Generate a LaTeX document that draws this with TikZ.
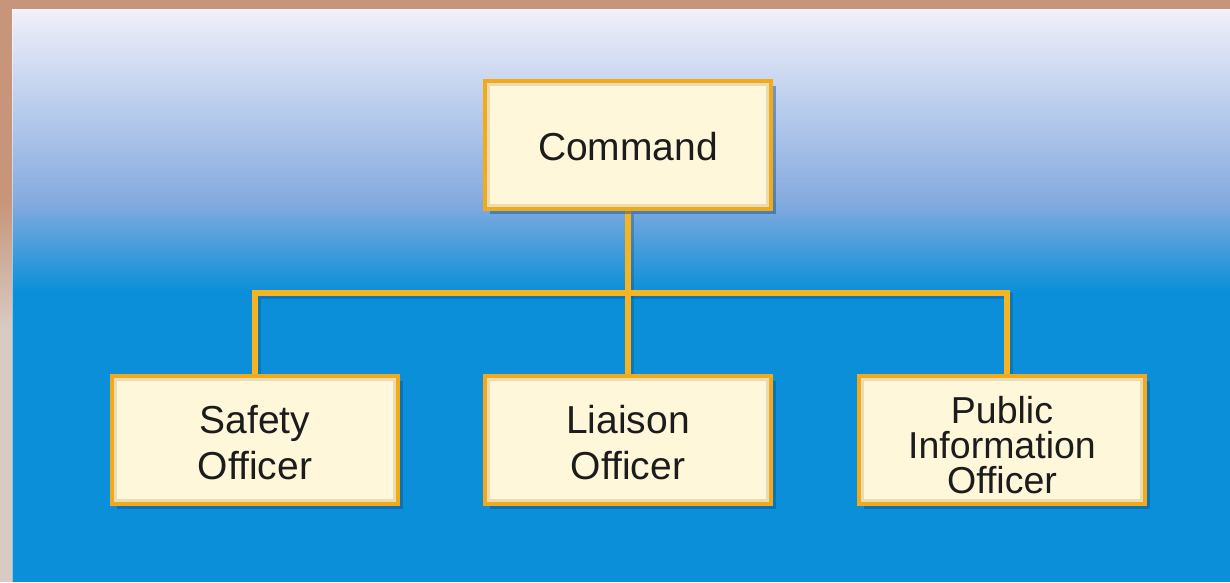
\documentclass[tikz,border=0pt]{standalone}
\usepackage{fontspec}
\setmainfont{Liberation Sans}
\usetikzlibrary{shadows}
\definecolor{frame}{HTML}{C7957A}
\definecolor{framelow}{HTML}{D8CBC4}
\definecolor{bgtop}{HTML}{F0F0FA}
\definecolor{bgmid}{HTML}{86ABDF}
\definecolor{bgblue}{HTML}{0A8FD8}
\definecolor{boxfill}{HTML}{FFF7DA}
\definecolor{boxline}{HTML}{F2A91A}
\definecolor{bevel}{HTML}{EADCB2}
\definecolor{conncol}{HTML}{F6B422}
\definecolor{shadowcol}{HTML}{0B4F8E}
\definecolor{txt}{HTML}{1C1C1C}
\newcommand{\boxtext}[2][3pt]{\raisebox{-#1}[\height][\depth]{\parbox{280pt}{\centering #2}}}
\pgfdeclarelayer{back}
\pgfdeclarelayer{conn}
\pgfsetlayers{back,conn,main}
\tikzset{
  orgbox/.style={draw=boxline, fill=boxfill, line width=4pt,
    minimum width=286pt, minimum height=128pt, inner sep=0pt,
    text=txt,
    font=\fontsize{39}{46}\selectfont,
    drop shadow={fill=shadowcol, opacity=0.45, shadow xshift=5pt, shadow yshift=-5pt},
    path picture={\draw[bevel, line width=2.5pt]
      ([shift={(3.5pt,-3.5pt)}]path picture bounding box.north west) rectangle
      ([shift={(-3.5pt,3.5pt)}]path picture bounding box.south east);}},
  connector/.style={draw=conncol, line width=6pt},
  connshadow/.style={draw=shadowcol, line width=6pt, opacity=0.35,
    transform canvas={shift={(3pt,-3pt)}}}
}
\begin{document}
\begin{tikzpicture}[x=1pt, y=-1pt]
\useasboundingbox (0,0) rectangle (1230,582);
\begin{pgfonlayer}{back}
  \fill[frame] (0,0) rectangle (1230,582);
  \shade[top color=frame, bottom color=framelow] (0,200) rectangle (12,330);
  \fill[framelow] (0,330) rectangle (12,582);
  \fill[bgblue] (12,9) rectangle (1230,582);
  \shade[top color=bgtop, bottom color=bgmid] (12,9) rectangle (1230,200);
  \shade[top color=bgmid, bottom color=bgblue] (12,200) rectangle (1230,292);
  \draw[white, opacity=0.5, line width=1pt] (12.5,9) -- (12.5,582);
  \draw[white, opacity=0.5, line width=1pt] (12,9.5) -- (1230,9.5);
\end{pgfonlayer}

\node[orgbox] (cmd) at (628,145) {\boxtext[2pt]{Command}};
\node[orgbox] (safety) at (255,440) {\boxtext{Safety\\Officer}};
\node[orgbox] (liaison) at (628,440) {\boxtext{Liaison\\Officer}};
\node[orgbox, font=\fontsize{37.5}{35}\selectfont] (pio) at (1002,440) {\boxtext[5pt]{Public\\Information\\Officer}};

\coordinate (bar) at (628,293);

\begin{pgfonlayer}{conn}
  \draw[connshadow] (cmd.south) -- (bar);
  \draw[connshadow] (safety.north) |- (bar) -| ([xshift=5pt]pio.north);
  \draw[connshadow] (bar) -- (liaison.north);
  \draw[connector] (cmd.south) -- (bar);
  \draw[connector] (safety.north) |- (bar) -| ([xshift=5pt]pio.north);
  \draw[connector] (bar) -- (liaison.north);
\end{pgfonlayer}
\end{tikzpicture}
\end{document}
